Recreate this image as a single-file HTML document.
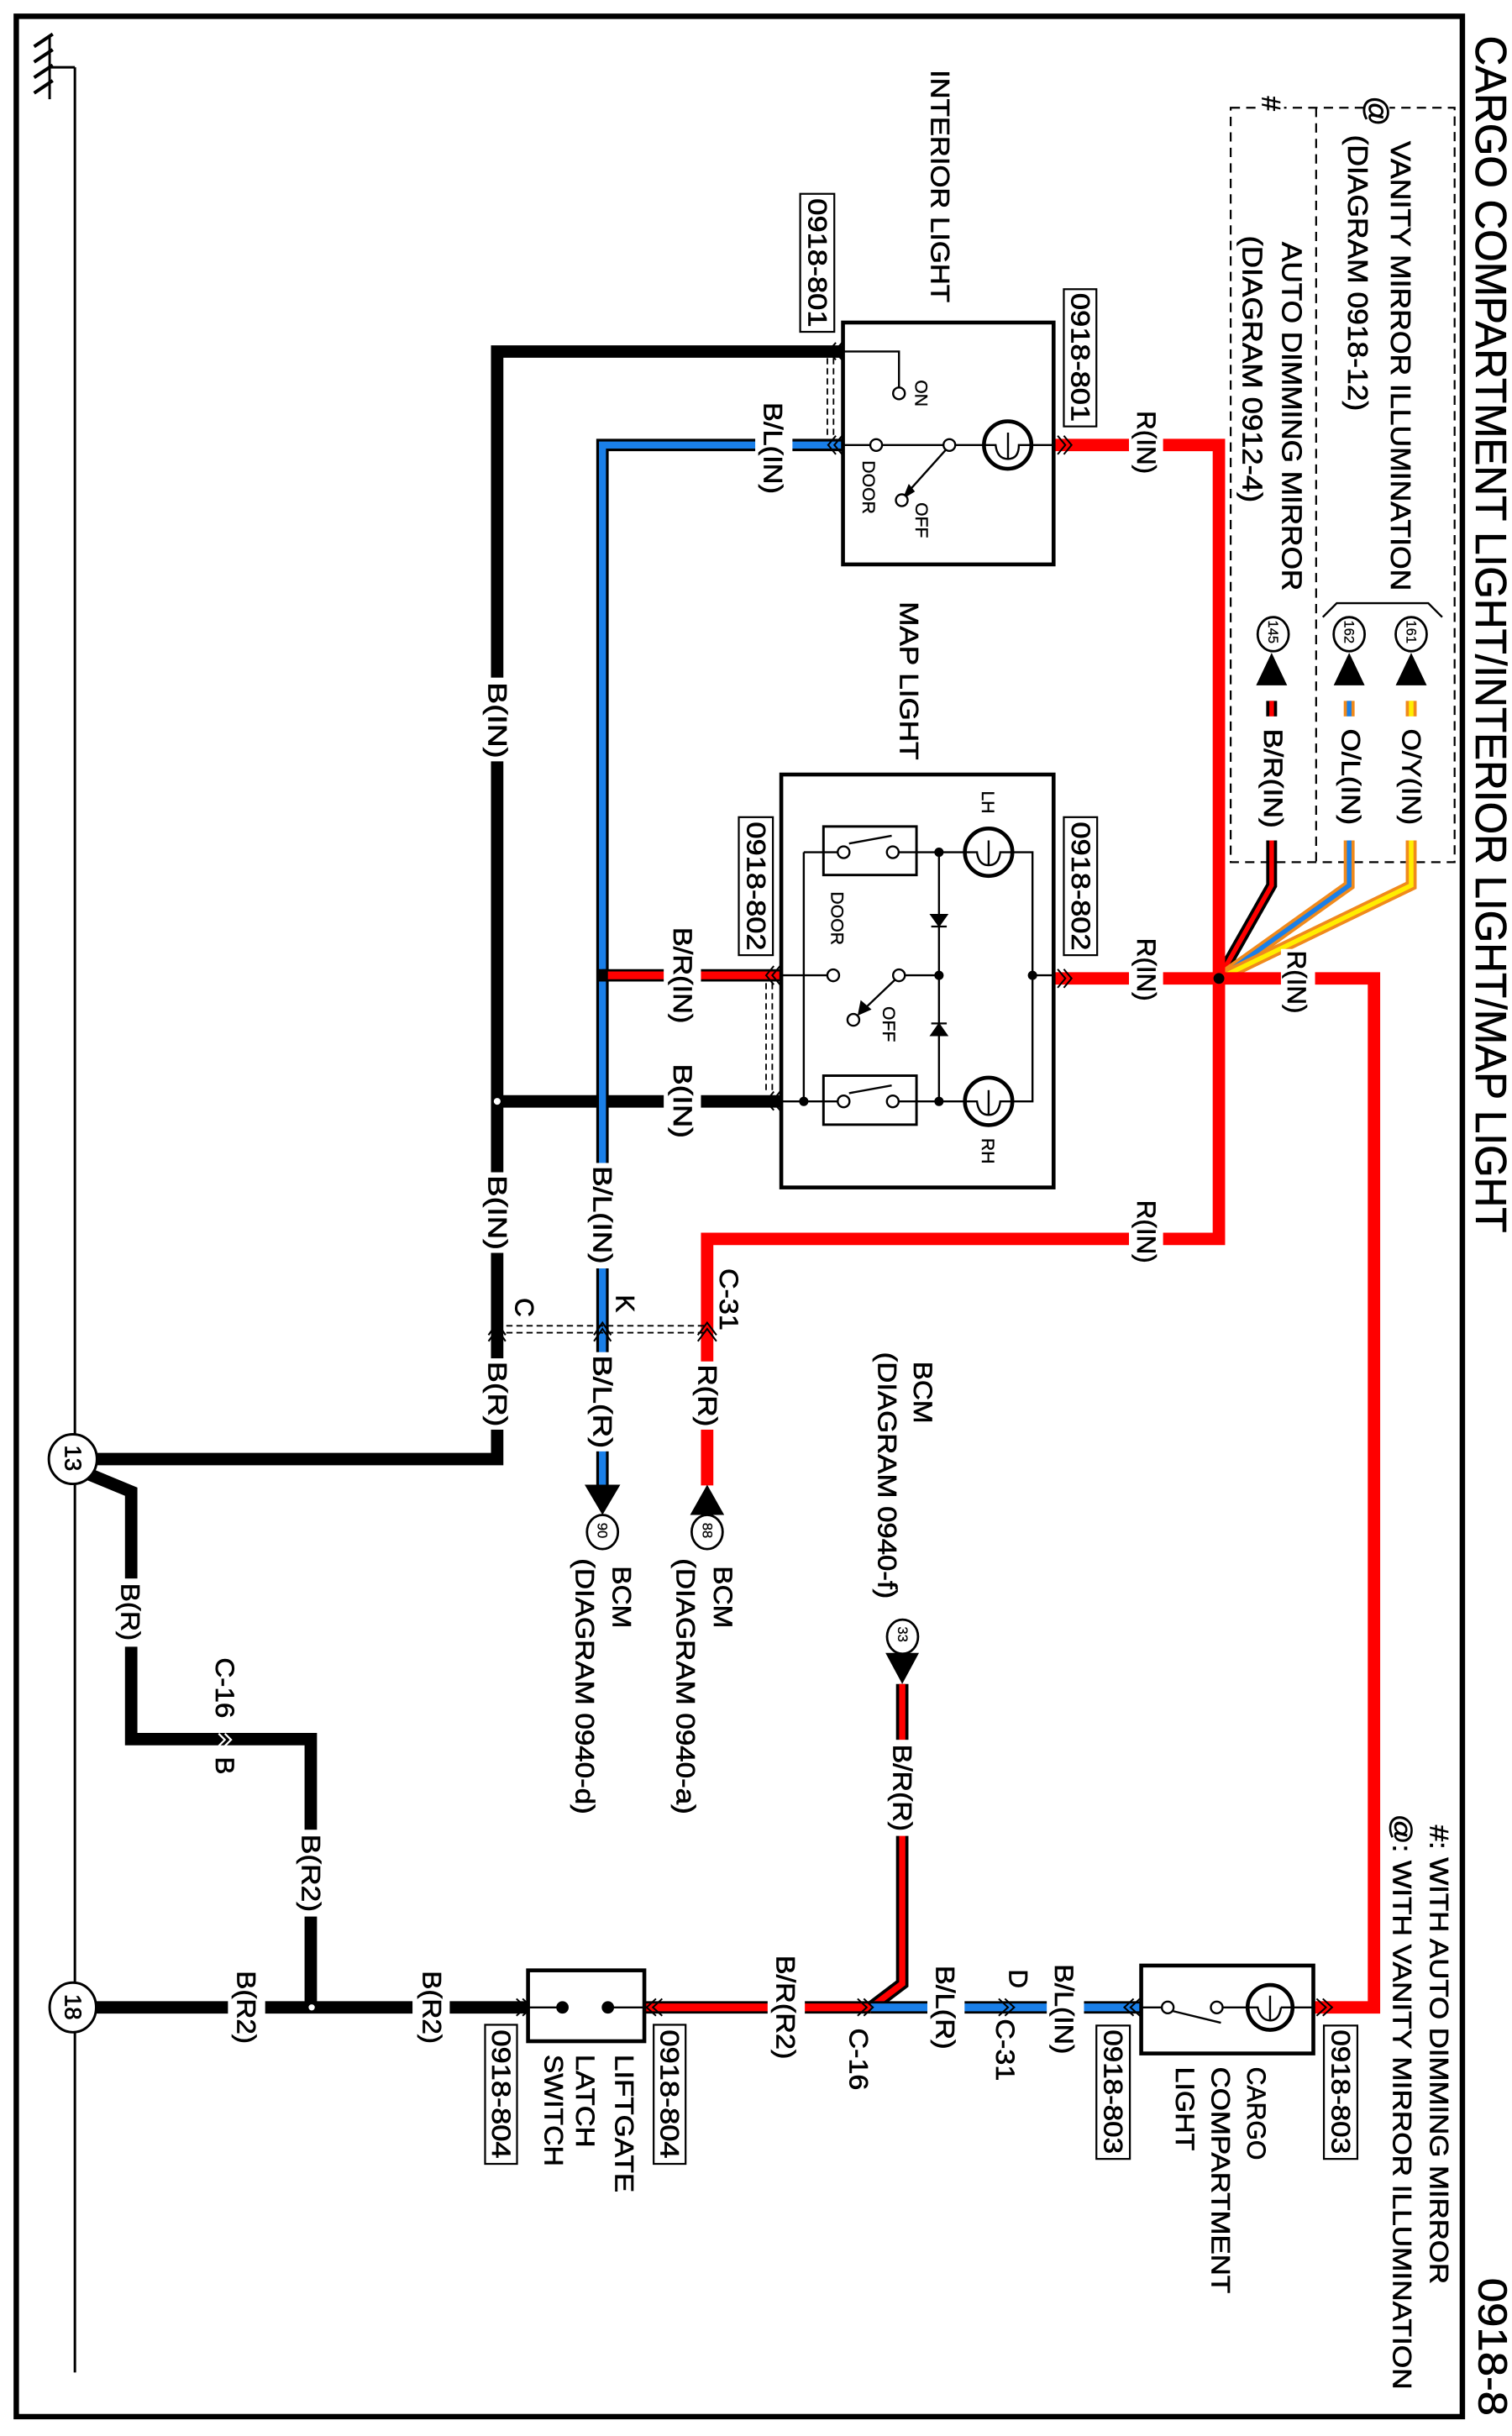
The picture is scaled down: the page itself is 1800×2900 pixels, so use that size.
<!DOCTYPE html>
<html><head><meta charset="utf-8"><style>
html,body{margin:0;padding:0;background:#fff;}
svg{display:block;}
text{font-family:"Liberation Sans",Arial,sans-serif;fill:#000;dominant-baseline:central;stroke:#000;stroke-width:0.35px;}
.w{font-size:17px;}
.s{font-size:11.5px;stroke-width:0.2px;}
.c{font-size:9px;stroke-width:0.15px;}
</style></head><body>
<svg width="1800" height="2900" viewBox="0 0 975 1571" preserveAspectRatio="none" xmlns="http://www.w3.org/2000/svg">
<rect x="0" y="0" width="975" height="1571" fill="#fff"/>
<path d="M10.5 1558.5 V10.5 H943 V1558.5 Z" fill="none" stroke="#000" stroke-width="3.5"/>
<text transform="translate(961.5,23) rotate(90)" font-size="28" textLength="772" lengthAdjust="spacingAndGlyphs">CARGO COMPARTMENT LIGHT/INTERIOR LIGHT/MAP LIGHT</text>
<text transform="translate(962,1469) rotate(90)" font-size="26" textLength="89" lengthAdjust="spacingAndGlyphs">0918-8</text>

<path d="M48.3 43.4 V1530 M32 43.4 H48.3 M32 23 V64" fill="none" stroke="#000" stroke-width="1.6"/>
<path d="M22 30 L34 22 M22 40 L34 32 M22 50 L34 42 M22 60 L34 52" stroke="#000" stroke-width="2.2"/>

<path d="M793.6 69.5 H938 V556 H793.6 Z M848.7 69.5 V556" fill="none" stroke="#000" stroke-width="1.2" stroke-dasharray="6,4"/>
<rect x="880" y="60" width="16" height="22" fill="#fff"/>
<rect x="812" y="60" width="16" height="18" fill="#fff"/>
<text transform="translate(888,62) rotate(90)" font-size="19">@</text>
<text transform="translate(819.5,62) rotate(90)" font-size="17">#</text>
<text transform="translate(902.8,91) rotate(90)" font-size="18" textLength="290" lengthAdjust="spacingAndGlyphs">VANITY MIRROR ILLUMINATION</text>
<text transform="translate(875,87) rotate(90)" font-size="18" textLength="178" lengthAdjust="spacingAndGlyphs">(DIAGRAM 0918-12)</text>
<text transform="translate(832.5,156) rotate(90)" font-size="18" textLength="225" lengthAdjust="spacingAndGlyphs">AUTO DIMMING MIRROR</text>
<text transform="translate(807,152) rotate(90)" font-size="18" textLength="172" lengthAdjust="spacingAndGlyphs">(DIAGRAM 0912-4)</text>
<path d="M853 398 L862 389 H921 L930 398" fill="none" stroke="#000" stroke-width="1.3"/>

<path d="M820 452 V571 L786 631" fill="none" stroke="#000" stroke-width="7"/>
<path d="M820 452 V571 L786 631" fill="none" stroke="#f00" stroke-width="3"/>
<path d="M870 452 V571 L786 631" fill="none" stroke="#f08a1c" stroke-width="7"/>
<path d="M870 452 V571 L786 631" fill="none" stroke="#1a7fe8" stroke-width="3"/>
<path d="M910 452 V571 L786 631" fill="none" stroke="#f08a1c" stroke-width="7"/>
<path d="M910 452 V571 L786 631" fill="none" stroke="#ffee00" stroke-width="3"/>
<rect x="810" y="462" width="22" height="80" fill="#fff"/>
<rect x="860" y="462" width="22" height="80" fill="#fff"/>
<rect x="900" y="462" width="22" height="80" fill="#fff"/>
<text class="w" transform="translate(821,470) rotate(90)" textLength="64" lengthAdjust="spacingAndGlyphs">B/R(IN)</text>
<text class="w" transform="translate(871,470) rotate(90)" textLength="62" lengthAdjust="spacingAndGlyphs">O/L(IN)</text>
<text class="w" transform="translate(910,470) rotate(90)" textLength="62" lengthAdjust="spacingAndGlyphs">O/Y(IN)</text>
<path d="M810 442 L820 421 L830 442 Z M860 442 L870 421 L880 442 Z M900 442 L910 421 L920 442 Z" fill="#000"/>
<g fill="#fff" stroke="#000" stroke-width="1.5">
<ellipse cx="821" cy="409" rx="10" ry="11"/><ellipse cx="870" cy="409" rx="10" ry="11"/><ellipse cx="910" cy="409" rx="10" ry="11"/></g>
<text class="c" transform="translate(821,400) rotate(90)">145</text>
<text class="c" transform="translate(870,400) rotate(90)">162</text>
<text class="c" transform="translate(910,400) rotate(90)">161</text>

<path d="M680 287 H786 V799 H456 V958" fill="none" stroke="#f00" stroke-width="8"/>
<path d="M680 631 H886 V1294.6 H847" fill="none" stroke="#f00" stroke-width="8"/>
<circle cx="786" cy="631" r="3.5" fill="#000"/>
<rect x="728" y="264" width="22" height="48" fill="#fff"/>
<text class="w" transform="translate(739,265) rotate(90)">R(IN)</text>
<rect x="728" y="604" width="22" height="48" fill="#fff"/>
<text class="w" transform="translate(739,605) rotate(90)">R(IN)</text>
<rect x="826" y="612" width="22" height="48" fill="#fff"/>
<text class="w" transform="translate(836,613) rotate(90)">R(IN)</text>
<rect x="728" y="773" width="22" height="48" fill="#fff"/>
<text class="w" transform="translate(739,774) rotate(90)">R(IN)</text>

<path d="M543 226.7 H320.6 V941 H60" fill="none" stroke="#000" stroke-width="8"/>
<path d="M503.8 710.3 H320.6" fill="none" stroke="#000" stroke-width="8"/>
<path d="M543 287 H388.5 V958" fill="none" stroke="#000" stroke-width="8"/>
<path d="M543 287 H388.5 V958" fill="none" stroke="#1a7fe8" stroke-width="4.5"/>
<path d="M503.8 629 H388.5" fill="none" stroke="#000" stroke-width="8"/>
<path d="M503.8 629 H391" fill="none" stroke="#f00" stroke-width="5"/>
<rect x="385" y="625" width="7" height="8" fill="#000"/>
<circle cx="320.6" cy="710.3" r="2.6" fill="#fff" stroke="#000" stroke-width="0.8"/>

<rect x="487" y="258" width="24" height="62" fill="#fff"/>
<text class="w" transform="translate(498.4,259.5) rotate(90)" textLength="59" lengthAdjust="spacingAndGlyphs">B/L(IN)</text>
<rect x="428" y="597" width="24" height="64" fill="#fff"/>
<text class="w" transform="translate(440,598) rotate(90)" textLength="62" lengthAdjust="spacingAndGlyphs">B/R(IN)</text>
<rect x="428" y="684" width="24" height="52" fill="#fff"/>
<text class="w" transform="translate(440,686) rotate(90)" textLength="48" lengthAdjust="spacingAndGlyphs">B(IN)</text>
<rect x="308" y="437" width="24" height="54" fill="#fff"/>
<text class="w" transform="translate(320.6,440) rotate(90)" textLength="49" lengthAdjust="spacingAndGlyphs">B(IN)</text>
<rect x="308" y="756" width="24" height="52" fill="#fff"/>
<text class="w" transform="translate(320.6,758) rotate(90)" textLength="48" lengthAdjust="spacingAndGlyphs">B(IN)</text>
<rect x="376" y="750" width="24" height="68" fill="#fff"/>
<text class="w" transform="translate(388.5,752) rotate(90)" textLength="63" lengthAdjust="spacingAndGlyphs">B/L(IN)</text>
<rect x="308" y="876" width="24" height="46" fill="#fff"/>
<text class="w" transform="translate(320.6,878) rotate(90)" textLength="42" lengthAdjust="spacingAndGlyphs">B(R)</text>
<rect x="376" y="872" width="24" height="64" fill="#fff"/>
<text class="w" transform="translate(388.5,874) rotate(90)" textLength="60" lengthAdjust="spacingAndGlyphs">B/L(R)</text>
<rect x="444" y="878" width="24" height="44" fill="#fff"/>
<text class="w" transform="translate(456,880) rotate(90)" textLength="40" lengthAdjust="spacingAndGlyphs">R(R)</text>

<path d="M320 855 H456 M320 859.5 H456" stroke="#000" stroke-width="1" stroke-dasharray="4,2.5"/>
<g fill="none" stroke="#000" stroke-width="1.1">
<path d="M315 861 L320.6 853 L326 861 M315 865 L320.6 857 L326 865"/>
<path d="M383 861 L388.5 853 L394 861 M383 865 L388.5 857 L394 865"/>
<path d="M450 861 L456 853 L462 861 M450 865 L456 857 L462 865"/>
</g>
<text class="w" transform="translate(338,837) rotate(90)">C</text>
<text class="w" transform="translate(403,835) rotate(90)">K</text>
<text class="w" transform="translate(470,818) rotate(90)" textLength="40" lengthAdjust="spacingAndGlyphs">C-31</text>

<path d="M377 957.5 L388.5 977 L400 957.5 Z" fill="#000"/>
<path d="M445 977 L456 957.5 L467 977 Z" fill="#000"/>
<g fill="#fff" stroke="#000" stroke-width="1.5"><ellipse cx="388.5" cy="988" rx="10" ry="11"/><ellipse cx="456" cy="988" rx="10" ry="11"/></g>
<text class="c" transform="translate(388.5,982) rotate(90)">90</text>
<text class="c" transform="translate(456,982) rotate(90)">88</text>
<text class="w" transform="translate(400.8,1010) rotate(90)" textLength="40" lengthAdjust="spacingAndGlyphs">BCM</text>
<text class="w" transform="translate(377,1005) rotate(90)" textLength="165" lengthAdjust="spacingAndGlyphs">(DIAGRAM 0940-d)</text>
<text class="w" transform="translate(466,1010) rotate(90)" textLength="40" lengthAdjust="spacingAndGlyphs">BCM</text>
<text class="w" transform="translate(442,1005) rotate(90)" textLength="165" lengthAdjust="spacingAndGlyphs">(DIAGRAM 0940-a)</text>

<text class="w" transform="translate(595,878) rotate(90)" textLength="40" lengthAdjust="spacingAndGlyphs">BCM</text>
<text class="w" transform="translate(572,872) rotate(90)" textLength="159" lengthAdjust="spacingAndGlyphs">(DIAGRAM 0940-f)</text>
<path d="M581.8 1086 V1279.3 L561.6 1294.6" fill="none" stroke="#000" stroke-width="8"/>
<path d="M581.8 1086 V1279.3 L561.6 1294.6" fill="none" stroke="#f00" stroke-width="4"/>
<path d="M571 1066 L581.8 1086 L592.6 1066 Z" fill="#000"/>
<ellipse cx="582" cy="1055.5" rx="10" ry="11" fill="#fff" stroke="#000" stroke-width="1.5"/>
<text class="c" transform="translate(582,1049) rotate(90)">33</text>
<rect x="570" y="1122" width="24" height="62" fill="#fff"/>
<text class="w" transform="translate(581.8,1125) rotate(90)" textLength="56" lengthAdjust="spacingAndGlyphs">B/R(R)</text>

<path d="M58 951 L84.6 962 V1121.6 H200.4 V1294.6" fill="none" stroke="#000" stroke-width="8" stroke-linejoin="miter"/>
<path d="M62 1294.6 H340" fill="none" stroke="#000" stroke-width="8"/>
<circle cx="201" cy="1294.6" r="2.4" fill="#fff" stroke="#000" stroke-width="0.8"/>
<rect x="72" y="1018" width="24" height="44" fill="#fff"/>
<text class="w" transform="translate(84,1021) rotate(90)" textLength="37" lengthAdjust="spacingAndGlyphs">B(R)</text>
<text class="w" transform="translate(145,1069) rotate(90)" textLength="39" lengthAdjust="spacingAndGlyphs">C-16</text>
<text class="w" transform="translate(145,1133) rotate(90)">B</text>
<path d="M141 1118 L145 1122 L141 1126 M145 1118 L149 1122 L145 1126" fill="none" stroke="#fff" stroke-width="1.2"/>
<rect x="188" y="1180" width="24" height="56" fill="#fff"/>
<text class="w" transform="translate(200.4,1183) rotate(90)" textLength="50" lengthAdjust="spacingAndGlyphs">B(R2)</text>
<rect x="147" y="1268" width="24" height="52" fill="#fff"/>
<text class="w" transform="translate(158.6,1271) rotate(90)" textLength="47" lengthAdjust="spacingAndGlyphs">B(R2)</text>
<rect x="266" y="1268" width="24" height="52" fill="#fff"/>
<text class="w" transform="translate(278.4,1271) rotate(90)" textLength="47" lengthAdjust="spacingAndGlyphs">B(R2)</text>

<ellipse cx="47" cy="941" rx="15.5" ry="16" fill="#fff" stroke="#000" stroke-width="1.6"/>
<text transform="translate(47,932) rotate(90)" font-size="15">13</text>
<ellipse cx="47" cy="1294.6" rx="15" ry="16" fill="#fff" stroke="#000" stroke-width="1.6"/>
<text transform="translate(47,1286) rotate(90)" font-size="15">18</text>

<path d="M415.6 1294.6 H561.6" fill="none" stroke="#000" stroke-width="8"/>
<path d="M415.6 1294.6 H561.6" fill="none" stroke="#f00" stroke-width="5"/>
<path d="M561.6 1294.6 H736" fill="none" stroke="#000" stroke-width="8"/>
<path d="M561.6 1294.6 H736" fill="none" stroke="#1a7fe8" stroke-width="5"/>
<rect x="495" y="1260" width="24" height="70" fill="#fff"/>
<text class="w" transform="translate(506.5,1261) rotate(90)" textLength="67" lengthAdjust="spacingAndGlyphs">B/R(R2)</text>
<text class="w" transform="translate(553.5,1308) rotate(90)" textLength="40" lengthAdjust="spacingAndGlyphs">C-16</text>
<rect x="598" y="1266" width="24" height="57" fill="#fff"/>
<text class="w" transform="translate(609.5,1267.6) rotate(90)" textLength="54" lengthAdjust="spacingAndGlyphs">B/L(R)</text>
<rect x="675" y="1265" width="24" height="61" fill="#fff"/>
<text class="w" transform="translate(686,1266.7) rotate(90)" textLength="58" lengthAdjust="spacingAndGlyphs">B/L(IN)</text>
<text class="w" transform="translate(656.4,1270) rotate(90)">D</text>
<text class="w" transform="translate(648,1302) rotate(90)" textLength="40" lengthAdjust="spacingAndGlyphs">C-31</text>
<g fill="none" stroke="#000" stroke-width="1.1">
<path d="M553 1289 L558.9 1294.6 L553 1300 M557 1289 L562.9 1294.6 L557 1300"/>
<path d="M644 1289 L650 1294.6 L644 1300 M648 1289 L654 1294.6 L648 1300"/>
<path d="M333 1289 L339 1294.6 L333 1300 M337 1289 L343 1294.6 L337 1300"/>
<path d="M423 1289 L417 1294.6 L423 1300 M427 1289 L421 1294.6 L427 1300"/>
<path d="M731 1289 L725 1294.6 L731 1300 M735 1289 L729 1294.6 L735 1300"/>
<path d="M849 1289 L855 1294.6 L849 1300 M853 1289 L859 1294.6 L853 1300"/>
</g>

<rect x="340.5" y="1270.7" width="75" height="45.7" fill="#fff" stroke="#000" stroke-width="2.5"/>
<path d="M340.5 1294.6 H362.7 M392 1294.6 H415.6" stroke="#000" stroke-width="1.3"/>
<circle cx="362.7" cy="1294.6" r="4" fill="#000"/><circle cx="392" cy="1294.6" r="4" fill="#000"/>
<g fill="#fff" stroke="#000" stroke-width="1.2"><rect x="312.8" y="1305.8" width="20.6" height="89.7"/><rect x="421.5" y="1305.8" width="20.6" height="89.7"/></g>
<text class="w" transform="translate(323.1,1309) rotate(90)" textLength="83" lengthAdjust="spacingAndGlyphs">0918-804</text>
<text class="w" transform="translate(431.8,1309) rotate(90)" textLength="83" lengthAdjust="spacingAndGlyphs">0918-804</text>
<text class="w" transform="translate(402.4,1325) rotate(90)" textLength="89" lengthAdjust="spacingAndGlyphs">LIFTGATE</text>
<text class="w" transform="translate(377.4,1325) rotate(90)" textLength="60" lengthAdjust="spacingAndGlyphs">LATCH</text>
<text class="w" transform="translate(357,1325) rotate(90)" textLength="72" lengthAdjust="spacingAndGlyphs">SWITCH</text>

<rect x="735.9" y="1267.6" width="111" height="56.7" fill="#fff" stroke="#000" stroke-width="2.5"/>
<path d="M735.9 1294.6 H749.5 M788.7 1294.6 H804.5 M833.5 1294.6 H847 M756.5 1297 L787.3 1304.5" fill="none" stroke="#000" stroke-width="1.3"/>
<circle cx="753" cy="1294.6" r="3.8" fill="#fff" stroke="#000" stroke-width="1.3"/>
<circle cx="784.6" cy="1294.6" r="3.8" fill="#fff" stroke="#000" stroke-width="1.3"/>
<circle cx="819" cy="1294.6" r="14.5" fill="#fff" stroke="#000" stroke-width="2.5"/>
<path d="M804.5 1294.6 H811 Q813 1303 819 1303 Q825 1303 826 1294.6 M819 1303 V1287 M826 1294.6 H833.5" fill="none" stroke="#000" stroke-width="1.3"/>
<g fill="#fff" stroke="#000" stroke-width="1.2"><rect x="707" y="1306.3" width="21.6" height="86"/><rect x="853.7" y="1306.3" width="21.6" height="86"/></g>
<text class="w" transform="translate(717.8,1309) rotate(90)" textLength="80" lengthAdjust="spacingAndGlyphs">0918-803</text>
<text class="w" transform="translate(864.5,1309) rotate(90)" textLength="80" lengthAdjust="spacingAndGlyphs">0918-803</text>
<text class="w" transform="translate(810,1333) rotate(90)" textLength="60" lengthAdjust="spacingAndGlyphs">CARGO</text>
<text class="w" transform="translate(787,1333) rotate(90)" textLength="146" lengthAdjust="spacingAndGlyphs">COMPARTMENT</text>
<text class="w" transform="translate(764,1333) rotate(90)" textLength="54" lengthAdjust="spacingAndGlyphs">LIGHT</text>
<text class="w" transform="translate(928,1177) rotate(90)" textLength="296" lengthAdjust="spacingAndGlyphs">#: WITH AUTO DIMMING MIRROR</text>
<text class="w" transform="translate(904,1170) rotate(90)" textLength="371" lengthAdjust="spacingAndGlyphs">@: WITH VANITY MIRROR ILLUMINATION</text>

<text class="w" transform="translate(606,45) rotate(90)" textLength="150" lengthAdjust="spacingAndGlyphs">INTERIOR LIGHT</text>
<rect x="543.6" y="208" width="135.8" height="156" fill="#fff" stroke="#000" stroke-width="2.5"/>
<path d="M543.6 226.7 H579.7 V250 M543.6 287 H561 M569 287 H608 M616 287 H634.5 M665 287 H679.4 M610 290 L584 319" fill="none" stroke="#000" stroke-width="1.3"/>
<path d="M582 322 L586 312 L590 317 Z" fill="#000"/>
<g fill="#fff" stroke="#000" stroke-width="1.3"><circle cx="579.7" cy="253.7" r="3.8"/><circle cx="565" cy="287" r="3.8"/><circle cx="612.2" cy="287" r="3.8"/><circle cx="581.5" cy="322.6" r="3.8"/></g>
<circle cx="649.8" cy="287" r="15.3" fill="#fff" stroke="#000" stroke-width="2.5"/>
<path d="M634.5 287 H642 Q643 296 650 296 Q657 296 657 287 H665 M650 296 V279" fill="none" stroke="#000" stroke-width="1.3"/>
<text class="s" transform="translate(593.8,245) rotate(90)">ON</text>
<text class="s" transform="translate(559.8,297) rotate(90)">DOOR</text>
<text class="s" transform="translate(594,324) rotate(90)">OFF</text>
<g fill="#fff" stroke="#000" stroke-width="1.2"><rect x="516" y="125" width="22" height="89"/><rect x="686" y="186.5" width="21" height="88.5"/></g>
<text class="w" transform="translate(527,128) rotate(90)" textLength="83" lengthAdjust="spacingAndGlyphs">0918-801</text>
<text class="w" transform="translate(696.5,189) rotate(90)" textLength="83" lengthAdjust="spacingAndGlyphs">0918-801</text>
<path d="M533.5 231 V283 M537.5 231 V283" stroke="#000" stroke-width="1" stroke-dasharray="4,2.5"/>
<g fill="none" stroke="#000" stroke-width="1.1">
<path d="M539 221 L534 226.7 L539 232 M543 221 L538 226.7 L543 232"/>
<path d="M539 281 L534 287 L539 293 M543 281 L538 287 L543 293"/>
<path d="M682 281 L687 287 L682 293 M686 281 L691 287 L686 293"/>
<path d="M682 625 L687 631 L682 637 M686 625 L691 631 L686 637"/>
<path d="M499 623 L494 629 L499 635 M503 623 L498 629 L503 635"/>
<path d="M499 704 L494 710.3 L499 716 M503 704 L498 710.3 L503 716"/>
</g>

<text class="w" transform="translate(586,388) rotate(90)" textLength="102" lengthAdjust="spacingAndGlyphs">MAP LIGHT</text>
<rect x="503.8" y="499.5" width="175.6" height="266.3" fill="#fff" stroke="#000" stroke-width="2.5"/>
<path d="M503.8 710.3 H518.3 M518.3 549.6 V710.3 H540 M579.7 710.3 H622 M653 710.3 H665.8 V549.6 H653 M622 549.6 H579.7 M540 549.6 H518.3 M605.5 549.6 V710.3 M503.8 629 H533.5 M583.5 629 H605.5 M665.8 629 H679.4 M577 632 L556 652" fill="none" stroke="#000" stroke-width="1.3"/>
<path d="M547.5 544 L575 539 M547.5 705 L575 700" stroke="#000" stroke-width="1.3"/>
<g fill="none" stroke="#000" stroke-width="1.6"><rect x="531" y="533" width="60" height="31.3"/><rect x="531" y="693.7" width="60" height="31.6"/></g>
<g fill="#fff" stroke="#000" stroke-width="1.3">
<circle cx="544" cy="549.6" r="3.8"/><circle cx="575.7" cy="549.6" r="3.8"/>
<circle cx="544" cy="710.3" r="3.8"/><circle cx="575.7" cy="710.3" r="3.8"/>
<circle cx="537.3" cy="629" r="3.8"/><circle cx="579.7" cy="629" r="3.8"/><circle cx="550.3" cy="657.7" r="3.8"/></g>
<path d="M553 655 L555 645 L562 651 Z" fill="#000"/>
<path d="M600.5 590 H610.5 L605.5 597 Z M600.5 597.5 H610.5" fill="#000" stroke="#000" stroke-width="1.2"/>
<path d="M600.5 667.6 H610.5 L605.5 660.5 Z M600.5 660 H610.5" fill="#000" stroke="#000" stroke-width="1.2"/>
<g fill="#000"><circle cx="605.5" cy="549.6" r="3"/><circle cx="605.5" cy="629" r="3"/><circle cx="605.5" cy="710.3" r="3"/><circle cx="518.3" cy="710.3" r="3"/><circle cx="665.8" cy="629" r="3"/></g>
<g fill="#fff" stroke="#000" stroke-width="2.5"><circle cx="637.5" cy="549.6" r="15.3"/><circle cx="637.5" cy="710.3" r="15.3"/></g>
<path d="M622 549.6 H630 Q631 558 637.5 558 Q644 558 645 549.6 H653 M637.5 558 V542 M622 710.3 H630 Q631 719 637.5 719 Q644 719 645 710.3 H653 M637.5 719 V703" fill="none" stroke="#000" stroke-width="1.3"/>
<text class="s" transform="translate(636.6,510) rotate(90)">LH</text>
<text class="s" transform="translate(636.6,734) rotate(90)">RH</text>
<text class="s" transform="translate(539.4,575) rotate(90)">DOOR</text>
<text class="s" transform="translate(572.8,649) rotate(90)">OFF</text>
<g fill="#fff" stroke="#000" stroke-width="1.2"><rect x="476.4" y="527" width="22" height="89"/><rect x="686" y="527" width="21.5" height="89"/></g>
<text class="w" transform="translate(487.4,530) rotate(90)" textLength="83" lengthAdjust="spacingAndGlyphs">0918-802</text>
<text class="w" transform="translate(696.8,530) rotate(90)" textLength="83" lengthAdjust="spacingAndGlyphs">0918-802</text>
<path d="M494 634 V705 M498 634 V705" stroke="#000" stroke-width="1" stroke-dasharray="4,2.5"/>
</svg>
</body></html>
